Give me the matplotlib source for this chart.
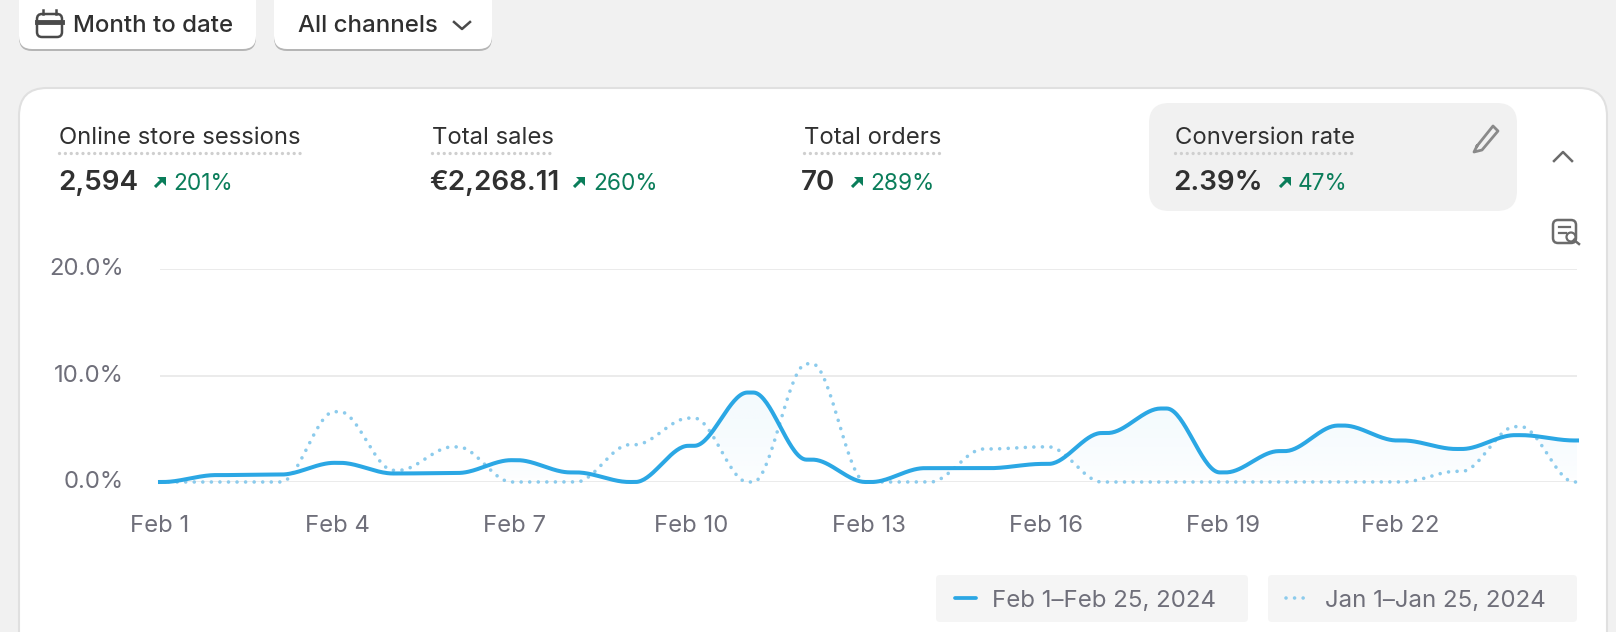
import numpy as np
import matplotlib
matplotlib.use('Agg')
import matplotlib.pyplot as plt
import matplotlib.transforms as mtrans
from matplotlib.patches import FancyBboxPatch, Polygon, Circle

plt.rcParams['font.family'] = ['Inter', 'DejaVu Sans']

# conversion rate per day, in %
days = list(range(1, 26))
current = [0.0, 0.65, 0.7, 1.8, 0.8, 0.85, 2.05, 0.9, 0.0, 3.4, 8.4, 2.1, 0.0,
           1.3, 1.3, 1.7, 4.6, 6.9, 0.9, 2.9, 5.3, 3.9, 3.1, 4.4, 3.9]
previous = [0.0, 0.0, 0.0, 6.6, 1.1, 3.3, 0.0, 0.0, 3.5, 6.0, 0.0, 11.1, 0.0,
            0.0, 3.1, 3.3, 0.0, 0.0, 0.0, 0.0, 0.0, 0.0, 1.0, 5.2, 0.0]
tick_days = [1, 4, 7, 10, 13, 16, 19, 22]
tick_labels = ['Feb 1', 'Feb 4', 'Feb 7', 'Feb 10', 'Feb 13', 'Feb 16', 'Feb 19', 'Feb 22']
y_ticks = [0, 10, 20]
y_labels = ['0.0%', '10.0%', '20.0%']
metric_names = ['Online store sessions', 'Total sales', 'Total orders', 'Conversion rate']
metric_values = ['2,594', '€2,268.11', '70', '2.39%']
metric_changes = ['201%', '260%', '289%', '47%']
legend_labels = ['Feb 1–Feb 25, 2024', 'Jan 1–Jan 25, 2024']

W, H = 1616, 632
BG = '#f1f1f1'
INK = '#303030'
GREEN = '#0a7d5a'
GREY = '#6f6f7a'
BLUE = '#2ba7e4'
LIGHT = '#8ccbec'


def rounded_step(y, n=40, margin=0.05):
    # flat on each day, rounded step between days (the look of the Polaris line charts)
    y = np.asarray(y, dtype=float)
    xs, ys = [], []
    for i in range(len(y) - 1):
        t = np.linspace(0, 1, n, endpoint=False)
        u = np.clip((t - margin) / (1 - 2 * margin), 0, 1)
        u = u * u * (3 - 2 * u)
        xs.append(i + t)
        ys.append(y[i] + (y[i + 1] - y[i]) * u)
    xs.append([len(y) - 1])
    ys.append([y[-1]])
    return np.concatenate(xs) + days[0], np.concatenate(ys)


def box(ax, x0, y0, x1, y1, r, fc, ec='none', lw=0, z=1):
    p = FancyBboxPatch((x0 + r, y0 + r), x1 - x0 - 2 * r, y1 - y0 - 2 * r,
                       boxstyle=f'round,pad={r},rounding_size={r}', fc=fc, ec=ec, lw=lw, zorder=z)
    ax.add_patch(p)


def arrow(ax, x, y):
    ax.plot([x - 5, x + 3], [y + 5, y - 3], color=GREEN, lw=2.2, solid_capstyle='butt', zorder=5)
    ax.add_patch(Polygon([[x - 3, y - 5], [x + 6, y - 5], [x + 6, y + 4]], fc=GREEN, ec='none', zorder=5))


fig = plt.figure(figsize=(W / 100, H / 100), dpi=100, facecolor=BG)

# page furniture, in screen pixels
ui = fig.add_axes([0, 0, 1, 1])
ui.set_xlim(0, W)
ui.set_ylim(H, 0)
ui.axis('off')

# filter buttons
for x0, x1 in [(19, 256), (274, 492)]:
    box(ui, x0, -30, x1, 51, 13, '#b5b5b5', z=1)
    box(ui, x0, -30, x1, 49, 13, 'white', z=2)
ui.text(73, 25.5, 'Month to date', fontsize=17.3, fontweight='medium', color=INK, va='center', zorder=3)
ui.text(298, 25.5, 'All channels', fontsize=17.3, fontweight='medium', color=INK, va='center', zorder=3)
box(ui, 37, 14, 62, 37, 5, 'white', ec='#4a4a4a', lw=1.8, z=3)
ui.plot([37, 62], [22, 22], color='#4a4a4a', lw=3.5, zorder=3)
ui.plot([43, 43], [10, 14], color='#4a4a4a', lw=1.8, zorder=3)
ui.plot([56, 56], [10, 14], color='#4a4a4a', lw=1.8, zorder=3)
ui.plot([454, 462, 470], [22, 29, 22], color='#4a4a4a', lw=1.8, zorder=3)

# card
box(ui, 19, 88, 1607, 700, 28, 'white', ec='#e0e0e0', lw=1.5, z=1)
box(ui, 1149, 103, 1517, 211, 20, BG, z=2)

name_x = [59, 432, 804, 1175]
name_end = [303, 552, 939, 1356]
value_x = [58, 429, 801, 1173]
arrow_x = [160, 579, 857, 1285]
change_x = [173, 593, 870, 1298]
for i in range(4):
    ui.text(name_x[i], 138, metric_names[i], fontsize=17.2, color=INK, va='center', zorder=3)
    ui.plot([name_x[i], name_end[i]], [152.5, 152.5], color='#cfcfcf', lw=2.4,
            ls=(0, (0.01, 1.75)), dash_capstyle='round', zorder=3)
    ui.text(value_x[i], 183, metric_values[i], fontsize=20, fontweight='semibold', color=INK,
            va='center', zorder=3)
    arrow(ui, arrow_x[i], 182)
    ui.text(change_x[i], 184, metric_changes[i], fontsize=16.3, color=GREEN, va='center', zorder=3)

# pencil
ui.plot([1477, 1493, 1498, 1482, 1474, 1477], [146, 126, 131, 150, 152, 146], color='#8a8a8a', lw=2, zorder=3)
# collapse chevron
ui.plot([1554, 1563, 1572], [161, 152, 161], color='#6b6b6b', lw=1.8, zorder=3)
# insights icon
box(ui, 1553, 220, 1576, 243, 5, 'white', ec='#6b6b6b', lw=1.8, z=3)
ui.plot([1559, 1570], [227, 227], color='#6b6b6b', lw=1.6, zorder=4)
ui.plot([1559, 1566], [233, 233], color='#6b6b6b', lw=1.6, zorder=4)
ui.add_patch(Circle((1571, 237), 4.5, fc='white', ec='#6b6b6b', lw=1.6, zorder=4))
ui.plot([1574, 1579], [240, 244], color='#6b6b6b', lw=1.8, zorder=4)

# legend
box(ui, 936, 575, 1248, 622, 4, '#f5f5f5', z=2)
box(ui, 1268, 575, 1577, 622, 4, '#f5f5f5', z=2)
ui.plot([955, 976], [598, 598], color=BLUE, lw=2.7, solid_capstyle='round', zorder=3)
ui.plot([1286, 1309], [598, 598], color=LIGHT, lw=2.6, ls=(0, (0.01, 2.36)), dash_capstyle='round', zorder=3)
ui.text(992, 601, legend_labels[0], fontsize=17.3, color=GREY, va='center', zorder=3)
ui.text(1325, 601, legend_labels[1], fontsize=17.3, color=GREY, va='center', zorder=3)

# chart
left, right = 160, 1577
top, bottom = 269, 482
ax = fig.add_axes([left / W, 1 - bottom / H, (right - left) / W, (bottom - top) / H])
ax.patch.set_alpha(0)
ax.set_zorder(2)

x_cur, y_cur = rounded_step(current)
x_prev, y_prev = rounded_step(previous)

# soft gradient where this period sits above the previous one
grid_y = np.linspace(0, 10, 300)
yy = grid_y[:, None]
alpha = 0.055 * (grid_y[:, None] / 8) ** 0.5 * ((yy <= y_cur[None, :]) & (yy >= y_prev[None, :]))
rgba = np.zeros((300, len(x_cur), 4))
rgba[..., :3] = matplotlib.colors.to_rgb(BLUE)
rgba[..., 3] = alpha
ax.imshow(rgba, extent=[days[0], days[-1], 0, 10], origin='lower', aspect='auto', zorder=1, interpolation='bilinear')

ax.plot(x_prev, y_prev, color=LIGHT, lw=2.6, ls=(0, (0.01, 2.36)), dash_capstyle='round', clip_on=False, zorder=3)
ax.plot(x_cur, y_cur, color=BLUE, lw=2.9, clip_on=False, zorder=4)

ax.set_xlim(days[0], days[-1])
ax.set_ylim(0, 20)
ax.set_xticks(tick_days)
ax.set_xticklabels(tick_labels)
ax.set_yticks(y_ticks)
ax.set_yticklabels(y_labels)
ax.tick_params(length=0, labelsize=17.2, labelcolor=GREY)
ax.tick_params(axis='x', pad=24)
ax.tick_params(axis='y', pad=26)
up = mtrans.ScaledTranslation(0, 1.5 / 72, fig.dpi_scale_trans)
for lab in ax.get_yticklabels():
    lab.set_transform(lab.get_transform() + up)
ax.grid(True, axis='y', color='#e9e9e9', lw=1.3)
ax.set_axisbelow(True)
for s in ax.spines.values():
    s.set_visible(False)

fig.savefig('out.png', dpi=100, facecolor=BG)
